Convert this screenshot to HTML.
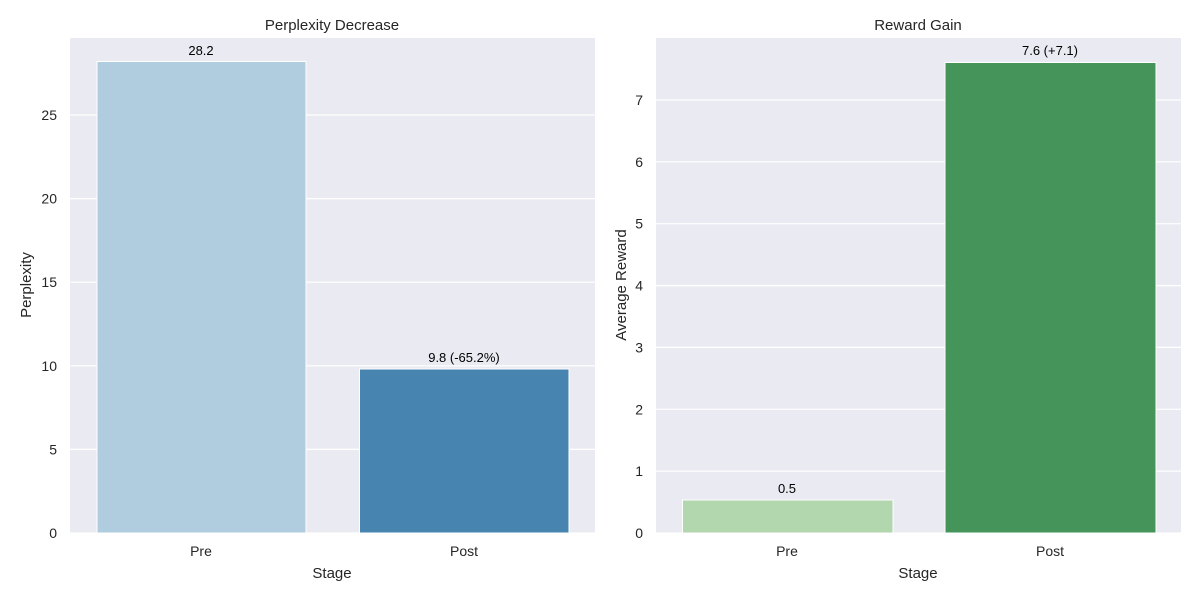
<!DOCTYPE html>
<html><head><meta charset="utf-8"><style>body{margin:0;background:#fff}</style></head><body>
<svg width="1200" height="600" xmlns="http://www.w3.org/2000/svg" font-family="Liberation Sans, DejaVu Sans, sans-serif" fill="#262626">
<rect width="1200" height="600" fill="#fff"/>
<!-- left -->
<rect x="70" y="38" width="525" height="495" fill="#eaeaf2"/>
<g stroke="#fff" stroke-width="1.2">
<line x1="70" x2="595" y1="533" y2="533"/><line x1="70" x2="595" y1="449.4" y2="449.4"/>
<line x1="70" x2="595" y1="365.8" y2="365.8"/><line x1="70" x2="595" y1="282.2" y2="282.2"/>
<line x1="70" x2="595" y1="198.6" y2="198.6"/><line x1="70" x2="595" y1="115" y2="115"/>
</g>
<rect x="97" y="61.5" width="209" height="471.5" fill="#b0cde0" stroke="#fff" stroke-width="1"/>
<rect x="359.5" y="369" width="209.5" height="164" fill="#4884b0" stroke="#fff" stroke-width="1"/>
<g font-size="14" text-anchor="end">
<text x="57" y="538">0</text><text x="57" y="454.4">5</text><text x="57" y="370.8">10</text>
<text x="57" y="287.2">15</text><text x="57" y="203.6">20</text><text x="57" y="120">25</text></g>
<g font-size="14" text-anchor="middle">
<text x="201" y="556">Pre</text><text x="464" y="556">Post</text>
<text x="332" y="578" font-size="15">Stage</text>
<text x="332" y="30" font-size="15">Perplexity Decrease</text>
<text transform="translate(31,285) rotate(-90)" font-size="15">Perplexity</text>
</g>
<g font-size="13" text-anchor="middle" fill="#000">
<text x="201" y="55">28.2</text><text x="464" y="362">9.8 (-65.2%)</text></g>
<!-- right -->
<rect x="656" y="38" width="525" height="495" fill="#eaeaf2"/>
<g stroke="#fff" stroke-width="1.2">
<line x1="656" x2="1181" y1="533" y2="533"/><line x1="656" x2="1181" y1="471.1" y2="471.1"/>
<line x1="656" x2="1181" y1="409.3" y2="409.3"/><line x1="656" x2="1181" y1="347.4" y2="347.4"/>
<line x1="656" x2="1181" y1="285.6" y2="285.6"/><line x1="656" x2="1181" y1="223.7" y2="223.7"/>
<line x1="656" x2="1181" y1="161.8" y2="161.8"/><line x1="656" x2="1181" y1="100" y2="100"/>
</g>
<rect x="682.5" y="500" width="210.5" height="33" fill="#b2d6ad" stroke="#fff" stroke-width="1"/>
<rect x="945" y="62.5" width="211" height="470.5" fill="#45945a" stroke="#fff" stroke-width="1"/>
<g font-size="14" text-anchor="end">
<text x="643" y="538">0</text><text x="643" y="476.1">1</text><text x="643" y="414.3">2</text>
<text x="643" y="352.4">3</text><text x="643" y="290.6">4</text><text x="643" y="228.7">5</text>
<text x="643" y="166.8">6</text><text x="643" y="105">7</text></g>
<g font-size="14" text-anchor="middle">
<text x="787" y="556">Pre</text><text x="1050" y="556">Post</text>
<text x="918" y="578" font-size="15">Stage</text>
<text x="918" y="30" font-size="15">Reward Gain</text>
<text transform="translate(626,285) rotate(-90)" font-size="15">Average Reward</text>
</g>
<g font-size="13" text-anchor="middle" fill="#000">
<text x="787" y="493">0.5</text><text x="1050" y="55">7.6 (+7.1)</text></g>
</svg>
</body></html>
